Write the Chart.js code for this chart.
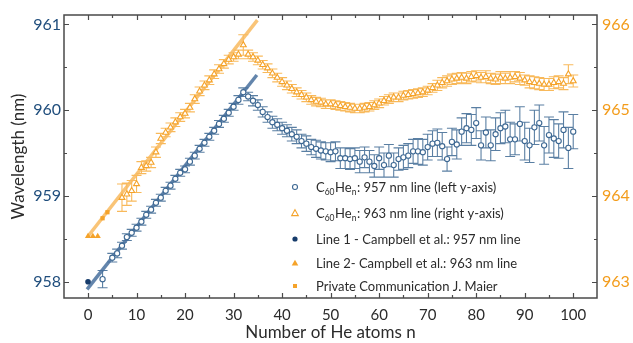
<!DOCTYPE html>
<html>
<head>
<meta charset="utf-8">
<script src="https://cdn.jsdelivr.net/npm/chart.js@4.4.1/dist/chart.umd.min.js"></script>
<style>
html,body{margin:0;padding:0;background:#fff;}
#wrap{width:633px;height:343px;position:relative;}
</style>
</head>
<body>
<div id="wrap"><canvas id="c"></canvas></div>
<script>
// ---------- data ----------
function range(a,b){const r=[];for(let i=a;i<=b;i++)r.push(i);return r;}

const nBlue = [3].concat(range(5,100));
const blueVals = [
 958.03,
 958.28,958.33,958.42,958.52,958.57,958.63,958.70,958.78,958.84,958.92,
 958.98,959.06,959.12,959.20,959.27,959.31,959.40,959.47,959.55,959.62,
 959.69,959.76,959.84,959.90,959.97,960.04,960.12,960.21,960.16,960.11,
 960.06,959.98,959.92,959.86,959.83,959.79,959.76,959.72,959.69,959.64,
 959.61,959.57,959.55,959.53,959.52,959.51,959.52,959.44,959.44,959.43,
 959.44,959.40,959.45,959.40,959.35,959.44,959.36,959.47,959.36,959.43,
 959.45,959.47,959.52,959.52,959.51,959.57,959.61,959.62,959.58,959.43,
 959.63,959.60,959.75,959.79,959.77,959.85,959.59,959.74,959.59,959.72,
 959.79,959.81,959.66,959.66,959.84,959.64,959.59,959.80,959.85,959.59,
 959.71,959.67,959.64,959.77,959.56,959.75
];
const blueErr = [
 0.10,
 0.05,0.05,0.04,0.04,0.04,0.04,0.04,0.04,0.04,0.04,
 0.04,0.04,0.04,0.04,0.04,0.04,0.04,0.04,0.04,0.04,
 0.04,0.04,0.04,0.04,0.04,0.04,0.05,0.05,0.05,0.06,
 0.06,0.06,0.06,0.07,0.07,0.07,0.07,0.08,0.08,0.08,
 0.09,0.09,0.10,0.10,0.10,0.11,0.11,0.12,0.12,0.12,
 0.12,0.13,0.12,0.13,0.13,0.13,0.14,0.13,0.14,0.13,
 0.14,0.14,0.14,0.15,0.15,0.15,0.15,0.16,0.16,0.14,
 0.16,0.17,0.16,0.17,0.18,0.18,0.17,0.18,0.18,0.19,
 0.18,0.19,0.20,0.18,0.20,0.22,0.20,0.20,0.21,0.22,
 0.21,0.22,0.20,0.21,0.24,0.20
];

const nOrange = range(7,100);
const orangeVals = [
 963.98,964.02,964.06,964.14,964.33,964.35,964.39,964.51,964.67,964.74,
 964.80,964.86,964.92,964.96,965.03,965.13,965.22,965.29,965.35,965.42,
 965.48,965.54,965.59,965.62,965.65,965.76,965.65,965.62,965.58,965.53,
 965.49,965.43,965.38,965.33,965.29,965.25,965.21,965.18,965.15,965.12,
 965.10,965.09,965.07,965.07,965.06,965.05,965.04,965.03,965.02,965.02,
 965.03,965.04,965.06,965.08,965.11,965.13,965.15,965.15,965.17,965.18,
 965.19,965.20,965.21,965.23,965.26,965.29,965.32,965.34,965.36,965.37,
 965.38,965.37,965.39,965.40,965.38,965.39,965.37,965.36,965.38,965.37,
 965.38,965.39,965.37,965.35,965.33,965.32,965.31,965.30,965.30,965.32,
 965.33,965.31,965.42,965.34
];
const orangeErr = [
 0.16,0.13,0.12,0.10,0.07,0.06,0.06,0.06,0.06,0.05,
 0.05,0.05,0.05,0.05,0.05,0.05,0.05,0.05,0.05,0.05,
 0.05,0.05,0.05,0.05,0.05,0.12,0.05,0.05,0.05,0.05,
 0.05,0.05,0.05,0.05,0.05,0.05,0.05,0.05,0.05,0.05,
 0.05,0.05,0.05,0.05,0.05,0.05,0.05,0.05,0.05,0.05,
 0.05,0.05,0.05,0.05,0.05,0.05,0.05,0.05,0.05,0.05,
 0.05,0.05,0.05,0.05,0.05,0.06,0.06,0.06,0.06,0.06,
 0.06,0.06,0.06,0.06,0.06,0.07,0.06,0.06,0.07,0.06,
 0.07,0.06,0.07,0.06,0.07,0.07,0.07,0.07,0.07,0.07,
 0.07,0.07,0.11,0.07
];

// Campbell et al. and private communication
const campbell1N = [0];      const campbell1Vals = [958.00];
const campbell2N = [0,1,2];  const campbell2Vals = [963.53,963.53,963.53];
const maierN = [3,4];        const maierVals = [963.74,963.81];

// linear fits
const fitBlueN = [-0.2, 34.8];   const fitBlueVals = [957.91, 960.41];
const fitOrangeN = [0, 34.9];    const fitOrangeVals = [963.53, 966.05];

// ticks
const xTicks = [0,10,20,30,40,50,60,70,80,90,100];
const xMinor = [5,15,25,35,45,55,65,75,85,95];
const yLeftTicks = [958,959,960,961];
const yLeftMinor = [958.5,959.5,960.5];
const yRightTicks = [963,964,965,966];
const yRightMinor = [963.5,964.5,965.5];

const legendLabels = [
  ['C','60','He','n',': 957 nm line (left y-axis)'],
  ['C','60','He','n',': 963 nm line (right y-axis)'],
  ['Line 1 - Campbell et al.: 957 nm line'],
  ['Line 2- Campbell et al.: 963 nm line'],
  ['Private Communication J. Maier']
];

// ---------- styles ----------
const BLUE = '#3d6893';
const BLUE_ERR = 'rgba(61,104,147,0.85)';
const NAVY = '#173c6b';
const ORANGE = '#f5a32a';
const ORANGE_ERR = 'rgba(246,168,50,0.8)';
const BLUE_TXT = '#1f4d7c';
const ORANGE_TXT = '#f39c1b';
const FONT = 'Lato';

const pts = (xs, ys) => xs.map((x,i)=>({x:x, y:ys[i]}));

const errorBars = {
  id:'errorBars',
  beforeDatasetsDraw(chart){
    const ctx = chart.ctx, a = chart.chartArea;
    ctx.save();
    ctx.beginPath(); ctx.rect(a.left,a.top,a.right-a.left,a.bottom-a.top); ctx.clip();
    chart.data.datasets.forEach((ds,i)=>{
      if(!ds.errors) return;
      const meta = chart.getDatasetMeta(i);
      const ys = chart.scales[ds.yAxisID];
      ctx.strokeStyle = ds.errColor; ctx.lineWidth = 1.1;
      ctx.beginPath();
      ds.data.forEach((p,j)=>{
        const x = meta.data[j].x, e = ds.errors[j];
        const y1 = ys.getPixelForValue(p.y-e), y2 = ys.getPixelForValue(p.y+e);
        ctx.moveTo(x,y1); ctx.lineTo(x,y2);
        ctx.moveTo(x-ds.capW,y1); ctx.lineTo(x+ds.capW,y1);
        ctx.moveTo(x-ds.capW,y2); ctx.lineTo(x+ds.capW,y2);
      });
      ctx.stroke();
    });
    ctx.restore();
  }
};

const frame = {
  id:'frame',
  afterDraw(chart){
    const ctx = chart.ctx, a = chart.chartArea, s = chart.scales;
    ctx.save();
    ctx.strokeStyle = '#4a4a4a'; ctx.lineWidth = 1.5;
    ctx.strokeRect(a.left, a.top, a.right-a.left, a.bottom-a.top);
    ctx.lineWidth = 1.2;
    ctx.beginPath();
    const hx = (v,len)=>{const x=Math.round(s.x.getPixelForValue(v))+0.5;
      ctx.moveTo(x,a.bottom); ctx.lineTo(x,a.bottom-len);
      ctx.moveTo(x,a.top); ctx.lineTo(x,a.top+len);};
    xTicks.forEach(v=>hx(v,5)); xMinor.forEach(v=>hx(v,3));
    const hl = (v,len)=>{const y=Math.round(s.y.getPixelForValue(v))+0.5;
      ctx.moveTo(a.left,y); ctx.lineTo(a.left+len,y);};
    yLeftTicks.forEach(v=>hl(v,5)); yLeftMinor.forEach(v=>hl(v,3));
    const hr = (v,len)=>{const y=Math.round(s.y2.getPixelForValue(v))+0.5;
      ctx.moveTo(a.right,y); ctx.lineTo(a.right-len,y);};
    yRightTicks.forEach(v=>hr(v,5)); yRightMinor.forEach(v=>hr(v,3));
    ctx.stroke();
    ctx.restore();
  }
};

function drawMarker(ctx, kind, x, y){
  ctx.save();
  ctx.lineWidth = 1.1;
  if(kind==='openCircle'){ ctx.strokeStyle=BLUE; ctx.fillStyle='#fff';
    ctx.beginPath(); ctx.arc(x,y,2.5,0,Math.PI*2); ctx.fill(); ctx.stroke(); }
  if(kind==='openTri'){ ctx.strokeStyle=ORANGE; ctx.fillStyle='#fff';
    ctx.beginPath(); ctx.moveTo(x,y-3.3); ctx.lineTo(x+3.3,y+2.6); ctx.lineTo(x-3.3,y+2.6); ctx.closePath(); ctx.fill(); ctx.stroke(); }
  if(kind==='dot'){ ctx.fillStyle=NAVY; ctx.beginPath(); ctx.arc(x,y,2.6,0,Math.PI*2); ctx.fill(); }
  if(kind==='tri'){ ctx.fillStyle=ORANGE; ctx.beginPath(); ctx.moveTo(x,y-3.3); ctx.lineTo(x+3.3,y+2.6); ctx.lineTo(x-3.3,y+2.6); ctx.closePath(); ctx.fill(); }
  if(kind==='sq'){ ctx.fillStyle=ORANGE; ctx.fillRect(x-2,y-2,4,4); }
  ctx.restore();
}

const customLegend = {
  id:'customLegend',
  afterDraw(chart){
    const ctx = chart.ctx;
    const rows = [187,213,239,263,286];
    const kinds = ['openCircle','openTri','dot','tri','sq'];
    const mx = 295, tx = 316;
    ctx.save();
    ctx.fillStyle = '#2b2b2b';
    ctx.textBaseline = 'alphabetic';
    rows.forEach((ry,i)=>{
      drawMarker(ctx, kinds[i], mx, ry);
      const parts = legendLabels[i];
      let x = tx; const base = ry + 4.5;
      if(parts.length===1){
        ctx.font = '13px '+FONT; ctx.fillText(parts[0], x, base);
      } else {
        const seq = [[parts[0],false],[parts[1],true],[parts[2],false],[parts[3],true],[parts[4],false]];
        seq.forEach(([t,sub])=>{
          ctx.font = (sub?'8.5px ':'13px ')+FONT;
          ctx.fillText(t, x, sub? base+3.5 : base);
          x += ctx.measureText(t).width + (sub?0.5:0);
        });
      }
    });
    ctx.restore();
  }
};

const chart = new Chart(document.getElementById('c'), {
  type:'scatter',
  data:{
    datasets:[
      { label:'Line 1 - Campbell et al.', data:pts(campbell1N,campbell1Vals), yAxisID:'y',
        pointStyle:'circle', pointRadius:2.8, backgroundColor:NAVY, borderColor:NAVY, borderWidth:0 },
      { label:'Line 2 - Campbell et al.', data:pts(campbell2N,campbell2Vals), yAxisID:'y2',
        pointStyle:'triangle', pointRadius:3.6, backgroundColor:ORANGE, borderColor:ORANGE, borderWidth:0 },
      { label:'Private Communication J. Maier', data:pts(maierN,maierVals), yAxisID:'y2',
        pointStyle:'rect', pointRadius:3, backgroundColor:ORANGE, borderColor:ORANGE, borderWidth:0 },
      { label:'957 nm', data:pts(nBlue,blueVals), yAxisID:'y', errors:blueErr, errColor:BLUE_ERR, capW:5,
        pointStyle:'circle', pointRadius:2.6, backgroundColor:'#fff', borderColor:BLUE, borderWidth:1.1 },
      { label:'963 nm', data:pts(nOrange,orangeVals), yAxisID:'y2', errors:orangeErr, errColor:ORANGE_ERR, capW:5,
        pointStyle:'triangle', pointRadius:3.4, backgroundColor:'#fff', borderColor:ORANGE, borderWidth:1.1 },
      { label:'fit blue', data:pts(fitBlueN,fitBlueVals), yAxisID:'y', showLine:true,
        borderColor:'rgba(72,112,158,0.85)', borderWidth:3.5, pointRadius:0 },
      { label:'fit orange', data:pts(fitOrangeN,fitOrangeVals), yAxisID:'y2', showLine:true,
        borderColor:'rgba(248,186,95,0.85)', borderWidth:3.5, pointRadius:0 }
    ]
  },
  options:{
    responsive:true, maintainAspectRatio:false, animation:false,
    layout:{padding:{top:15,left:0,right:0,bottom:0}},
    plugins:{legend:{display:false}, tooltip:{enabled:false}},
    scales:{
      x:{ type:'linear', position:'bottom', min:-4.95, max:104.9,
        grid:{display:false, drawTicks:false}, border:{display:false},
        afterBuildTicks:s=>{s.ticks = xTicks.map(v=>({value:v}));},
        afterFit:s=>{s.height=45;},
        ticks:{ color:'#2b2b2b', font:{family:FONT,size:15}, padding:8, maxRotation:0, autoSkip:false },
        title:{ display:true, text:'Number of He atoms n', color:'#2b2b2b', font:{family:FONT,size:17}, padding:{top:0,bottom:0} }
      },
      y:{ type:'linear', position:'left', min:957.81, max:961.11,
        grid:{display:false, drawTicks:false}, border:{display:false},
        afterBuildTicks:s=>{s.ticks = yLeftTicks.map(v=>({value:v}));},
        afterFit:s=>{s.width=64;},
        ticks:{ color:BLUE_TXT, font:{family:FONT,size:16}, padding:3 },
        title:{ display:true, text:'Wavelength (nm)', color:'#2b2b2b', font:{family:FONT,size:17}, padding:{top:8,bottom:0} }
      },
      y2:{ type:'linear', position:'right', min:962.81, max:966.11,
        grid:{display:false, drawTicks:false}, border:{display:false},
        afterBuildTicks:s=>{s.ticks = yRightTicks.map(v=>({value:v}));},
        afterFit:s=>{s.width=36;},
        ticks:{ color:ORANGE_TXT, font:{family:FONT,size:16}, padding:5 }
      }
    }
  },
  plugins:[errorBars, frame, customLegend]
});
</script>
</body>
</html>
